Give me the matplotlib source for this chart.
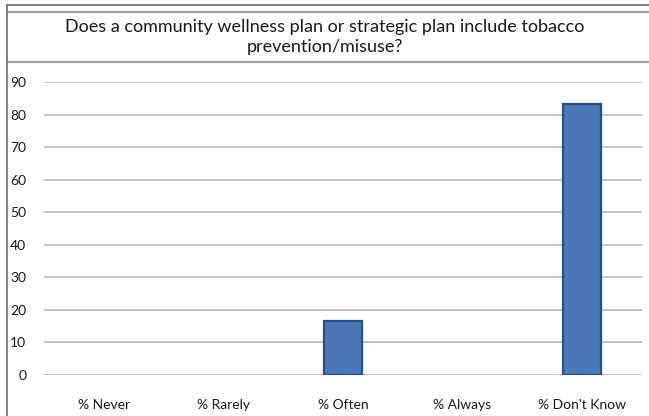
import matplotlib
matplotlib.use('Agg')
import matplotlib.pyplot as plt
from matplotlib.lines import Line2D

categories = ['% Never', '% Rarely', '% Often', '% Always', "% Don't Know"]
percent = [0, 0, 16.7, 0, 83.3]
y_ticks = [0, 10, 20, 30, 40, 50, 60, 70, 80, 90]
title = 'Does a community wellness plan or strategic plan include tobacco\nprevention/misuse?'

W, H = 649, 416
plt.rcParams['font.family'] = ['Lato', 'DejaVu Sans']

fig = plt.figure(figsize=(W / 100, H / 100), dpi=100)
fig.patch.set_facecolor('white')

# outer frame: double line at the top, title separator, left border
def hline(y, color, lw):
    fig.add_artist(Line2D([7 / W, 1], [1 - y / H, 1 - y / H], color=color, lw=lw))

hline(5, '#6a6a6a', 1.2)
hline(12, '#a0a0a0', 1.6)
hline(62, '#a0a0a0', 1.6)
fig.add_artist(Line2D([7 / W, 7 / W], [0, 1 - 5 / H], color='#808080', lw=1.4))

fig.text(325 / W, 1 - 37 / H, title, ha='center', va='center',
         fontsize=13, color='#1a1a1a', linespacing=1.25)

ax = fig.add_axes([44.25 / W, 1 - 375 / H, 597.5 / W, 293 / H])
x = range(len(categories))
edges = ['#24508f' if v > 0 else 'none' for v in percent]
ax.bar(x, percent, width=0.32, color='#4a78b8', edgecolor=edges, linewidth=1.6, zorder=3)

ax.set_xlim(-0.5, len(categories) - 0.5)
ax.set_ylim(0, 90)
ax.set_yticks(y_ticks)
ax.set_xticks(list(x))
ax.set_xticklabels(categories)
ax.tick_params(axis='both', length=0, labelsize=10, colors='#1a1a1a')
ax.tick_params(axis='y', pad=13)
ax.tick_params(axis='x', pad=17)
ax.grid(axis='y', color='#c4c4c4', linewidth=1.4, zorder=0)
for s in ax.spines.values():
    s.set_visible(False)

fig.savefig('out.png', dpi=100)
